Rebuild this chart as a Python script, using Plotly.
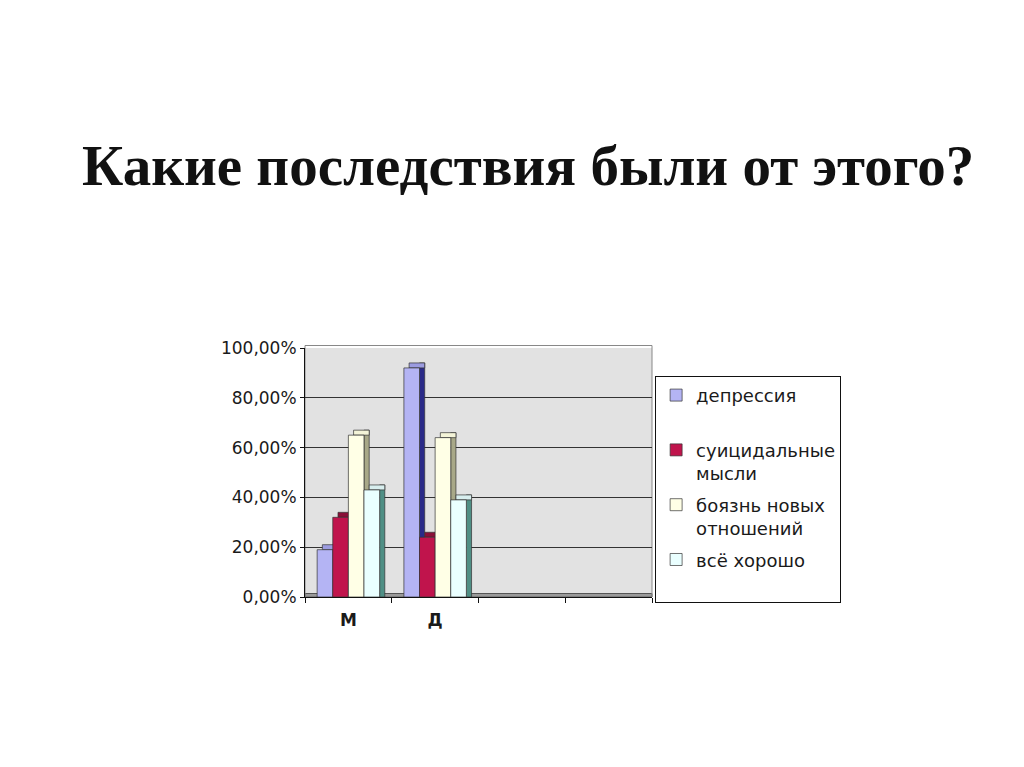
import plotly.graph_objects as go

categories = ["М", "Д", " ", "  "]
series_names = ["депрессия<br> ", "суицидальные<br>мысли", "боязнь новых<br>отношений", "всё хорошо<br> "]
depressiya = [0.19, 0.92, None, None]
suitsid = [0.32, 0.24, None, None]
boyazn = [0.65, 0.64, None, None]
vse_horosho = [0.43, 0.39, None, None]
y_ticks = [0, 0.2, 0.4, 0.6, 0.8, 1.0]

series = [depressiya, suitsid, boyazn, vse_horosho]
front_colors = ["#b4b4f4", "#c0144c", "#ffffe6", "#eaffff"]
top_colors = ["#9c9ce0", "#8a1038", "#f4f4d8", "#d8eeee"]
side_colors = ["#2a2a88", "#801030", "#a8a888", "#4f8f85"]

bar_w = 0.18
depth_x = 0.06
depth_y = 0.02
start = -0.36
edge = dict(color="#333333", width=0.7)

fig = go.Figure()

# 3d look: side and top faces first, front faces drawn over them
for i, vals in enumerate(series):
    off = start + bar_w * i
    fig.add_trace(go.Bar(x=categories, y=[v + depth_y if v is not None else None for v in vals],
                         base=0, offset=off + bar_w, width=depth_x,
                         marker=dict(color=side_colors[i], line=edge),
                         showlegend=False, hoverinfo="skip", legendgroup=str(i)))
    fig.add_trace(go.Bar(x=categories, y=[depth_y if v is not None else None for v in vals],
                         base=vals, offset=off + depth_x, width=bar_w,
                         marker=dict(color=top_colors[i], line=edge),
                         showlegend=False, hoverinfo="skip", legendgroup=str(i)))

for i, vals in enumerate(series):
    off = start + bar_w * i
    fig.add_trace(go.Bar(x=categories, y=vals, name=series_names[i],
                         offset=off, width=bar_w,
                         marker=dict(color=front_colors[i], line=edge),
                         legendgroup=str(i)))

fig.update_layout(
    width=1024, height=767,
    barmode="overlay",
    paper_bgcolor="white",
    plot_bgcolor="#e2e2e2",
    separators=", ",
    font=dict(family="DejaVu Sans, Arial", size=17, color="#1a1a1a"),
    margin=dict(l=297, r=380, t=340, b=178),
    title=dict(text="<b>Какие последствия были от этого?</b>",
               x=0.508, xanchor="center", y=0.795, yanchor="middle",
               font=dict(family="Liberation Serif, Times New Roman", size=57, color="#111111")),
    legend=dict(x=1.009, xanchor="left", y=0.888, yanchor="top", valign="top",
                bordercolor="#111111", borderwidth=1, bgcolor="white",
                font=dict(size=18, color="#1a1a1a"), tracegroupgap=5,
                itemclick=False, itemdoubleclick=False),
    showlegend=True,
)

fig.update_xaxes(type="category", categoryorder="array", categoryarray=categories,
                 tickson="boundaries", ticks="outside", ticklen=5, tickcolor="#111111",
                 showline=True, linecolor="#111111", linewidth=1, ticklabelstandoff=8,
                 tickfont=dict(size=17, color="#1a1a1a", weight="bold"),
                 showgrid=False)
fig.update_yaxes(range=[0, 1.0], tickvals=y_ticks, tickformat=".2%",
                 ticks="outside", ticklen=4, tickcolor="#111111",
                 showline=True, linecolor="#111111", linewidth=1,
                 gridcolor="#333333", gridwidth=1, zeroline=False,
                 tickfont=dict(size=17, color="#1a1a1a"))

# floor of the 3d plot area and its frame
fig.add_shape(type="rect", xref="paper", yref="y", x0=0, x1=1, y0=0, y1=depth_y * 0.7,
              line=dict(color="#555555", width=1), fillcolor="#9a9a9a", layer="between")
fig.add_shape(type="rect", xref="paper", yref="paper", x0=0, x1=1, y0=0, y1=1.01,
              line=dict(color="#888888", width=1), fillcolor="rgba(0,0,0,0)", layer="below")

fig.write_html("out.html")
